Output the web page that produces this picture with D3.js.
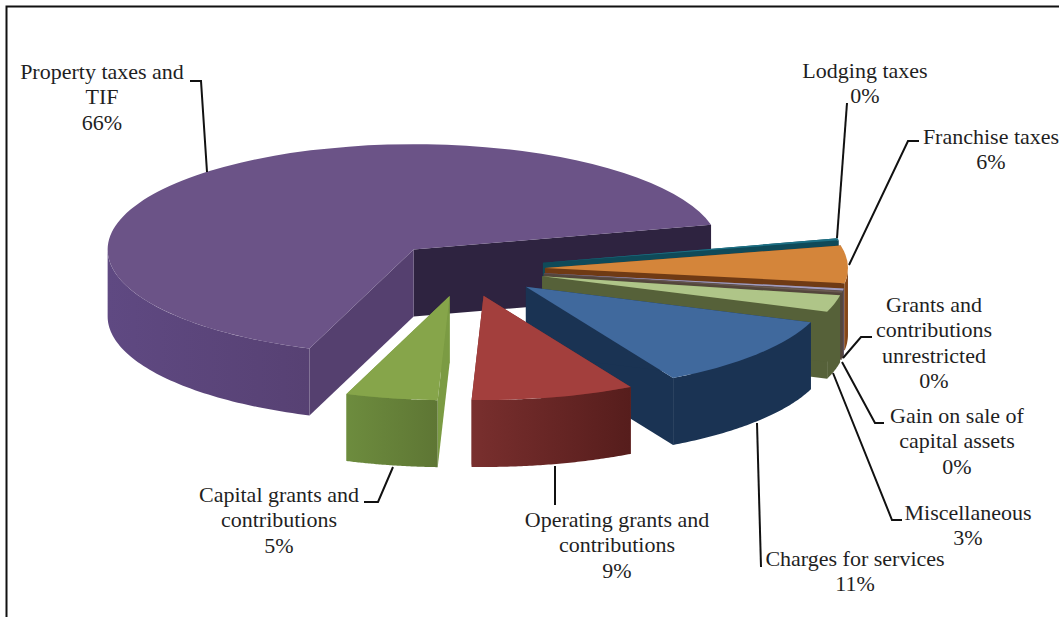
<!DOCTYPE html>
<html>
<head>
<meta charset="utf-8">
<title>Revenue by source</title>
<script src="https://cdn.jsdelivr.net/npm/d3@7/dist/d3.min.js"></script>
<style>
  html, body { margin: 0; padding: 0; background: #fff; overflow: hidden; }
  svg { display: block; }
  text { font-family: "Liberation Serif", serif; font-size: 22px; fill: #1f1f1f; }
</style>
</head>
<body>
<script>
// Revenue shares, clockwise from the largest slice
const categories = [
  "Property taxes and TIF", "Lodging taxes", "Franchise taxes",
  "Grants and contributions unrestricted", "Gain on sale of capital assets",
  "Miscellaneous", "Charges for services", "Operating grants and contributions",
  "Capital grants and contributions"
];
const shares = [0.657, 0.003, 0.058, 0.003, 0.003, 0.026, 0.114, 0.087, 0.049];

// Line breaks used for each label's name
const labelLines = [
  ["Property taxes and", "TIF"], ["Lodging taxes"], ["Franchise taxes"],
  ["Grants and", "contributions", "unrestricted"], ["Gain on sale of", "capital assets"],
  ["Miscellaneous"], ["Charges for services"], ["Operating grants and", "contributions"],
  ["Capital grants and", "contributions"]
];

// Face colours per slice
const topColors  = ["#6b5387", "#1d7186", "#d4853a", "#a29cbc", "#6a5a50", "#afc588", "#40699d", "#a33f3d", "#86a54a"];
const cutColors  = ["#2e2340", "#0f4a59", "#6f3a14", "#5d5060", "#54463c", "#566139", "#1a3353", "#7a2c2b", "#7b9b43"];
const wallStart  = ["#5f4982", "#0f4a59", "#8f4c1a", "#5d5060", "#54463c", "#566139", "#1a3353", "#792f2e", "#6d8c3e"];
const wallEnd    = ["#574173", "#0f4a59", "#7a3f14", "#5d5060", "#54463c", "#566139", "#1a3353", "#561d1c", "#5e7634"];
const lowerCut   = "#55406f";

// Pie geometry; the largest slice sits slightly nearer the eye
const centerX = 465, centerY = 269, radius = 303, tilt = 0.344, explode = 80, depth = 67;
const firstAngle = 199.9 * Math.PI / 180;
const nearRadius = [306, 303, 303, 303, 303, 303, 303, 303, 303];
const nudgeX = [2, 0, 0, 0, 0, 0, 0, 0, 0];
const nudgeY = [1, 0, 0, 0, 0, 0, 0, 0, 0];

// Back-to-front paint order
const paintOrder = [0, 1, 2, 3, 4, 5, 6, 8, 7];

// Label placement: centre x, first baseline, and the leader polyline
const labelLayout = [
  { x: 102, y: 79,  leader: [[190, 81], [201, 81], [207, 172]] },
  { x: 865, y: 78,  leader: [[847, 103], [837, 238]] },
  { x: 991, y: 144, leader: [[919, 141], [908, 141], [849, 265]] },
  { x: 934, y: 312, leader: [[872, 337], [861, 337], [843, 358]] },
  { x: 957, y: 423, leader: [[884, 423], [875, 423], [842, 362]] },
  { x: 968, y: 520, leader: [[902, 520], [892, 520], [833, 373]] },
  { x: 855, y: 566, leader: [[761, 567], [757, 423]] },
  { x: 617, y: 527, leader: [[555, 505], [555, 466]] },
  { x: 279, y: 502, leader: [[364, 502], [378, 502], [393, 467]] }
];
const lineStep = 25.3;

const svg = d3.select("body").append("svg").attr("width", 1059).attr("height", 617);
svg.append("rect").attr("width", 1059).attr("height", 617).attr("fill", "#fff");

const defs = svg.append("defs");
const pct = d3.format(".0%");

const pie = d3.pie().sort(null).startAngle(firstAngle).endAngle(firstAngle + 2 * Math.PI);
const arcs = pie(shares);

// Flat wall running from the slice's apex out to the rim at one angle
function cutWall(a, r) {
  const ex = r * Math.sin(a), ey = -r * tilt * Math.cos(a);
  return d3.line()([[0, 0], [ex, ey], [ex, ey + depth], [0, depth]]) + "Z";
}

const slices = svg.append("g");

paintOrder.forEach(i => {
  const d = arcs[i];
  const r = nearRadius[i];
  const mid = (d.startAngle + d.endAngle) / 2;
  const ox = centerX + explode * Math.sin(mid) + nudgeX[i];
  const oy = centerY - explode * tilt * Math.cos(mid) + nudgeY[i];
  const g = slices.append("g").attr("transform", `translate(${ox},${oy})`);

  const grad = defs.append("linearGradient").attr("id", "wall" + i);
  grad.append("stop").attr("offset", 0).attr("stop-color", wallStart[i]);
  grad.append("stop").attr("offset", 1).attr("stop-color", wallEnd[i]);

  g.append("path").attr("d", cutWall(d.endAngle, r)).attr("fill", cutColors[i]);
  g.append("path").attr("d", cutWall(d.startAngle, r))
    .attr("fill", i === 0 ? lowerCut : cutColors[i]);

  // Only the part of the rim that faces the viewer, 90 to 270 degrees from north
  const turns = Math.floor(d.startAngle / (2 * Math.PI));
  const from = Math.max(d.startAngle, Math.PI / 2 + turns * 2 * Math.PI);
  const to = Math.min(d.endAngle, 3 * Math.PI / 2 + turns * 2 * Math.PI);
  if (to > from) {
    const rim = d3.area()
      .x(a => r * Math.sin(a))
      .y0(a => -r * tilt * Math.cos(a))
      .y1(a => -r * tilt * Math.cos(a) + depth);
    const steps = d3.range(0, 61).map(s => from + (to - from) * s / 60);
    g.append("path").attr("d", rim(steps)).attr("fill", `url(#wall${i})`);
  }

  g.append("path")
    .attr("d", d3.arc().innerRadius(0).outerRadius(r)(d))
    .attr("transform", `scale(1,${tilt})`)
    .attr("fill", topColors[i]);
});

// Leader lines
const leaderLine = d3.line();
svg.append("g").selectAll("path").data(labelLayout).join("path")
  .attr("d", d => leaderLine(d.leader))
  .attr("fill", "none").attr("stroke", "#111").attr("stroke-width", 2);

// Category name and rounded share under it
const labels = svg.append("g").selectAll("text").data(labelLayout).join("text")
  .attr("text-anchor", "middle");
labels.each(function (d, i) {
  const rows = labelLines[i].concat(pct(shares[i]));
  d3.select(this).selectAll("tspan").data(rows).join("tspan")
    .attr("x", d.x)
    .attr("y", (r, j) => d.y + j * lineStep)
    .text(r => r);
});

// Frame: runs off the right and bottom of the page
svg.append("path")
  .attr("d", d3.line()([[6.5, 617], [6.5, 6.5], [1059, 6.5]]))
  .attr("fill", "none").attr("stroke", "#111").attr("stroke-width", 2);
</script>
</body>
</html>
